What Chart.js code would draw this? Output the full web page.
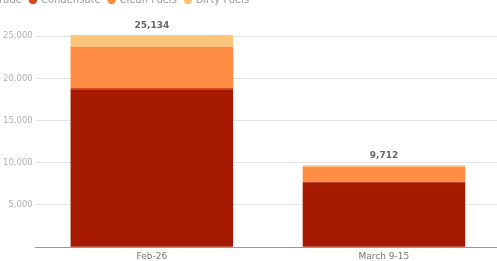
<!DOCTYPE html>
<html>
<head>
<meta charset="utf-8">
<script src="https://cdn.jsdelivr.net/npm/chart.js@4.4.1/dist/chart.umd.min.js"></script>
<style>
    html, body { margin: 0; padding: 0; background: #fff; overflow: hidden; }
    #wrap { position: relative; width: 497px; height: 261px; overflow: hidden; }
    #box { position: absolute; left: 0; top: -13px; width: 500px; height: 279px; }
</style>
</head>
<body>
<div id="wrap"><div id="box"><canvas id="exportsChart"></canvas></div></div>
<script>
const labels = ['Feb-26', 'March 9-15'];
const crude = [18700, 7700];
const condensate = [150, 40];
const cleanFuels = [4900, 1780];
const dirtyFuels = [1384, 192];
const yTicks = [0, 5000, 10000, 15000, 20000, 25000];

// total label above each stacked bar
const totalsPlugin = {
    id: 'totals',
    afterDatasetsDraw(chart) {
        const ctx = chart.ctx;
        const y = chart.scales.y;
        const x = chart.scales.x;
        ctx.save();
        ctx.font = 'bold 9px "DejaVu Sans"';
        ctx.fillStyle = '#666';
        ctx.textAlign = 'center';
        ctx.textBaseline = 'bottom';
        labels.forEach((l, i) => {
            let total = 0;
            chart.data.datasets.forEach(ds => { total += ds.data[i]; });
            ctx.fillText(total.toLocaleString('en-US'), x.getPixelForValue(i), y.getPixelForValue(total) - 5);
        });
        ctx.restore();
    }
};

// the legend starts a bit left of the page edge in the original
const legendShift = {
    id: 'legendShift',
    beforeDraw(chart) {
        const lg = chart.legend;
        if (!lg._shifted) {
            lg.left -= 27;
            lg.right -= 27;
            lg._shifted = true;
        }
    }
};

const ctx = document.getElementById('exportsChart').getContext('2d');
new Chart(ctx, {
    type: 'bar',
    data: {
        labels: labels,
        datasets: [
            { label: 'Crude', data: crude, backgroundColor: '#a51a00' },
            { label: 'Condensate', data: condensate, backgroundColor: '#d8491c' },
            { label: 'Clean Fuels', data: cleanFuels, backgroundColor: '#fe8d43' },
            { label: 'Dirty Fuels', data: dirtyFuels, backgroundColor: '#fdc47a' }
        ]
    },
    options: {
        responsive: true,
        maintainAspectRatio: false,
        animation: false,
        layout: { padding: 0 },
        datasets: { bar: { barPercentage: 0.7, categoryPercentage: 1 } },
        scales: {
            x: {
                stacked: true,
                grid: { display: false, drawTicks: false },
                border: { color: '#999' },
                ticks: { color: '#777', font: { family: 'DejaVu Sans', size: 9 }, padding: 4 }
            },
            y: {
                stacked: true,
                min: 0,
                max: 27500,
                afterBuildTicks: scale => {
                    scale.ticks = yTicks.map(v => ({ value: v }));
                },
                grid: { color: '#e2e2e2', drawTicks: false },
                border: { display: false },
                ticks: {
                    padding: 3,
                    color: '#b0b0b0',
                    font: { family: 'DejaVu Sans', size: 8.5 },
                    callback: function(value) {
                        return value === 0 ? '' : Number(value).toLocaleString('en-US');
                    }
                }
            }
        },
        plugins: {
            legend: {
                position: 'top',
                align: 'start',
                labels: {
                    usePointStyle: true,
                    pointStyle: 'circle',
                    boxWidth: 6,
                    boxHeight: 6,
                    color: '#999',
                    font: { family: 'DejaVu Sans', size: 10 },
                    padding: 8
                }
            },
            tooltip: { enabled: false }
        }
    },
    plugins: [totalsPlugin, legendShift]
});
</script>
</body>
</html>
